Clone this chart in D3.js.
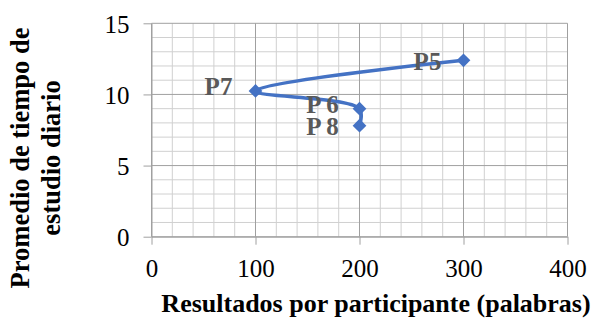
<!DOCTYPE html>
<html><head><meta charset="utf-8">
<script src="https://cdn.jsdelivr.net/npm/d3@7"></script>
<style>body{margin:0;background:#fff}svg{display:block}</style>
</head><body>
<script>
const labels = ["P5", "P7", "P 6", "P 8"];
const xValues = [300, 100, 200, 200];
const yValues = [12.4, 10.25, 9.0, 7.8];
const xTicks = [0, 100, 200, 300, 400];
const yTicks = [0, 5, 10, 15];
const xTitle = "Resultados por participante (palabras)";
const yTitle = ["Promedio de tiempo de", "estudio diario"];

// label placement offsets (style)
const labelOffsets = [[-36, 10], [-37, 4], [-37, 4], [-37, 9]];

const W = 600, H = 321;
const svg = d3.select("body").append("svg").attr("width", W).attr("height", H);
const x = d3.scaleLinear().domain([0, 400]).range([151.5, 567.5]);
const y = d3.scaleLinear().domain([0, 15]).range([236.7, 23.3]);
const serif = "'Liberation Serif','Times New Roman',serif";

const g = svg.append("g");
const xMinor = d3.range(0, 401, 20).filter(v => v % 100 !== 0);
const yMinor = d3.range(0, 15.01, 1).filter(v => v % 5 !== 0);
g.selectAll(".xm").data(xMinor).join("line")
  .attr("x1", d => x(d)).attr("x2", d => x(d)).attr("y1", y(0)).attr("y2", y(15))
  .attr("stroke", "#d0d0d0").attr("stroke-width", 1);
g.selectAll(".ym").data(yMinor).join("line")
  .attr("y1", d => y(d)).attr("y2", d => y(d)).attr("x1", x(0)).attr("x2", x(400))
  .attr("stroke", "#d0d0d0").attr("stroke-width", 1);
g.selectAll(".xM").data(xTicks).join("line")
  .attr("x1", d => x(d)).attr("x2", d => x(d)).attr("y1", y(0)).attr("y2", y(15))
  .attr("stroke", "#a0a0a0").attr("stroke-width", 1);
g.selectAll(".yM").data(yTicks).join("line")
  .attr("y1", d => y(d)).attr("y2", d => y(d)).attr("x1", x(0)).attr("x2", x(400))
  .attr("stroke", "#a0a0a0").attr("stroke-width", 1);

const xAxis = svg.append("g").attr("transform", `translate(0,${y(0)})`)
  .call(d3.axisBottom(x).tickValues(xTicks).tickSize(8).tickPadding(14).tickSizeOuter(0));
const yAxis = svg.append("g").attr("transform", `translate(${x(0)},0)`)
  .call(d3.axisLeft(y).tickValues(yTicks).tickSize(8).tickPadding(14).tickSizeOuter(0));
[xAxis, yAxis].forEach(a => {
  a.select(".domain").attr("stroke", "#a0a0a0");
  a.selectAll(".tick line").attr("stroke", "#a0a0a0");
  a.selectAll(".tick text").attr("font-family", serif).attr("font-size", 25).attr("fill", "#000");
});
xAxis.selectAll(".tick text").attr("dy", null).attr("y", null)
  .attr("transform", "translate(0,40)");
yAxis.selectAll(".tick text").attr("dy", "0.35em");

const pts = xValues.map((v, i) => ({x: v, y: yValues[i], label: labels[i]}));
const line = d3.line().x(d => x(d.x)).y(d => y(d.y)).curve(d3.curveCatmullRom.alpha(0.5));
svg.append("path").datum(pts).attr("d", line)
  .attr("fill", "none").attr("stroke", "#4472C4").attr("stroke-width", 3.5);
svg.selectAll(".mk").data(pts).join("path")
  .attr("d", d3.symbol(d3.symbolDiamond2, 120))
  .attr("transform", d => `translate(${x(d.x)},${y(d.y)})`)
  .attr("fill", "#4472C4");
svg.selectAll(".lb").data(pts).join("text")
  .attr("x", (d, i) => x(d.x) + labelOffsets[i][0])
  .attr("y", (d, i) => y(d.y) + labelOffsets[i][1])
  .attr("text-anchor", "middle")
  .attr("font-family", serif).attr("font-weight", "bold").attr("font-size", 25)
  .attr("fill", "#595959").text(d => d.label);

svg.append("text").attr("x", 376).attr("y", 312).attr("text-anchor", "middle")
  .attr("font-family", serif).attr("font-weight", "bold").attr("font-size", 26)
  .attr("fill", "#000").text(xTitle);
const yt = svg.append("text").attr("transform", "translate(0,158) rotate(-90)")
  .attr("text-anchor", "middle").attr("font-family", serif).attr("font-weight", "bold")
  .attr("font-size", 26.5).attr("fill", "#000");
yTitle.forEach((t, i) => yt.append("tspan").attr("x", 0).attr("y", 29 + i * 31).text(t));
</script>
</body></html>
